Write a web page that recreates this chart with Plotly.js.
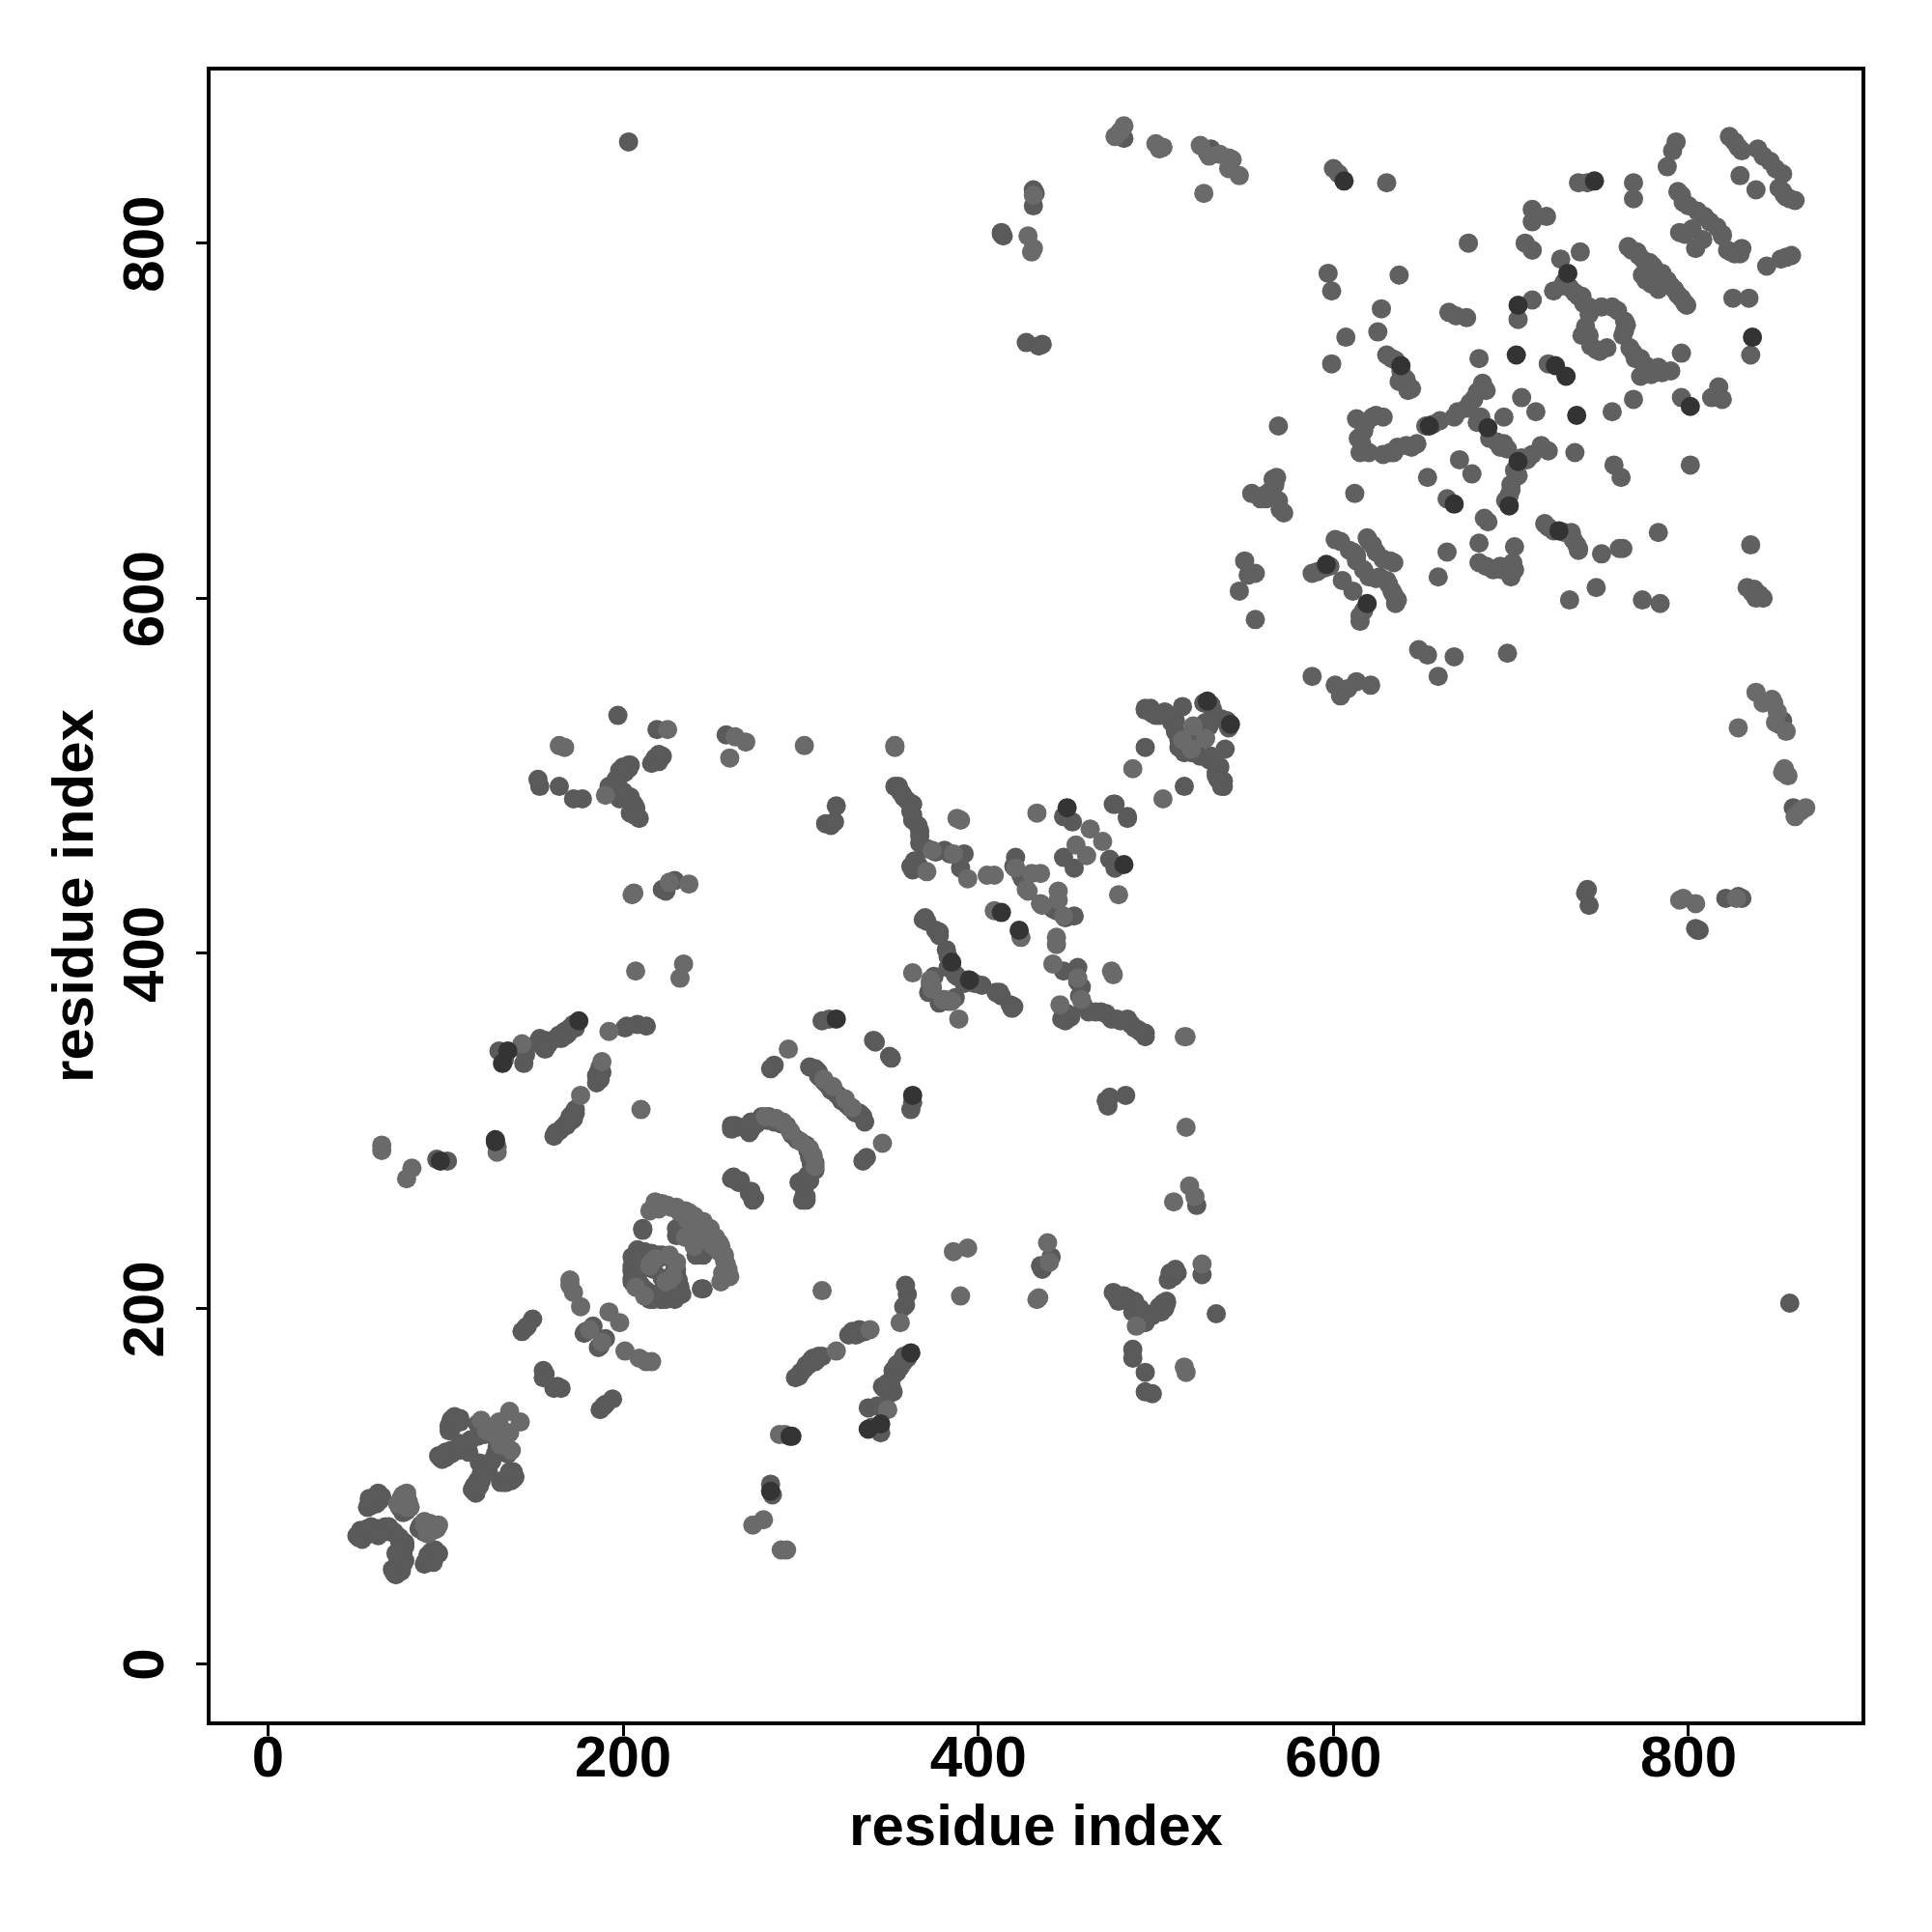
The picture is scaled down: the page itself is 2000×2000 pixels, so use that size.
<!DOCTYPE html>
<html><head><meta charset="utf-8">
<script src="https://cdn.plot.ly/plotly-3.0.1.min.js"></script>
<style>html,body{margin:0;padding:0;background:#fff}</style></head><body>
<div id="chart" style="width:2000px;height:2000px"></div>
<script>
// contact pairs [larger residue, smaller residue]; each is drawn on both sides of the diagonal
const pairsMid = [
[93,60],[91,58],[88,56],[94,64],[90,61],[96,62],[92,63],[93,75],[88,74],[86,78],[85,76],[73,55],[75,52],[72,50],[77,58],[76,62],[77,66],[74,58],[70,53],[72,54],[74,69],[73,57],[75,60],
[90,57],[92,60],[89,58],[94,62],[93,57],[76,60],[74,55],[73,52],[71,51],[76,56],[75,64],[77,68],[74,71],[72,62],
[138,108],[137,103],[131,102],[134,102],[136,105],[128,118],[133,123],[131,120],[123,112],[120,107],[118,103],[116,97],[116,100],[117,100],[120,103],[121,108],[119,113],[124,112],[138,104],[132,103],
[133,102],[135,103],[139,105],[136,108],[115,98],[117,96],[119,100],[122,110],[124,108],[126,114],[129,122],[133,120],[135,118],
[194,149],[189,145],[187,143],[190,146],[163,156],[165,155],[161,155],[190,183],[187,179],[186,178],
[249,242],[243,232],[241,233],[244,231],[245,211],[244,211],[231,208],[231,211],[230,222],[228,210],[221,205],[222,217],[215,205],[225,210],[223,212],[229,222],[230,208],[222,205],[218,208],[216,207],[222,210],
[226,207],[229,205],[224,205],[220,208],[232,212],[233,208],[228,207],[217,205],[213,210],[230,220],[231,216],[245,230],[246,233],[241,230],
[297,161],[300,164],[304,168],[307,172],[312,173],[309,171],[327,185],[333,188],[334,187],[359,202],[360,208],[359,213],[358,201],[358,173],[355,169],[352,165],[351,156],[348,157],[352,153],[338,144],[343,145],[340,133],[345,130],
[299,162],[302,166],[305,169],[308,170],[310,173],[303,168],[306,171],[333,186],[329,187],[336,187],[331,185],
[361,174],[360,172],[358,170],[356,167],[354,164],[352,162],[349,158],[350,152],[347,155],[346,156],[354,168],[358,172],
[441,229],[436,222],[435,224],[508,220],[507,216],[506,204],[502,201],[498,197],[494,194],[487,198],[484,206],[476,209],[479,204],[534,197],[487,177],[487,172],[494,164],[494,153],[498,152],[482,207],[490,200],[486,204],[504,203],[526,219],[523,258],
[506,203],[505,200],[503,198],[498,196],[494,192],[488,204],[483,206],[481,207],[478,206],[491,200],[510,218],[511,222],[512,220],
[472,317],[473,314],[474,319],[483,320],[362,312],[363,316],[337,285],[335,283],[350,342],[351,341],[335,308],[334,309],[330,311],[326,315],[322,319],[308,278],[303,272],[299,271],[303,261],[300,271],[303,263],[273,261],[271,265],[272,266],[274,262],
[306,281],[308,282],[303,292],[298,295],[304,289],[305,285],[307,279],[304,275],[305,272],[301,272],[302,268],[302,264],[301,261],
[333,310],[331,310],[328,313],[327,314],[324,318],[323,317],[321,320],[336,305],
[388,387],[402,382],[413,376],[420,370],[394,385],[452,364],[462,367],[469,367],[475,363],[484,363],[488,358],[494,353],[458,381],[455,388],[456,392],[448,390],[454,421],[449,420],[444,424],[442,425],[474,453],[477,448],[454,448],[484,476],[484,477],[516,494],[538,494],[534,502],[540,531],[537,494],[534,500],[530,509],[525,511],[520,513],[531,511],[539,515],
[494,355],[491,356],[486,360],[478,363],[472,366],[466,367],[457,376],[456,384],[459,371],[450,366],[448,367],[447,363],[449,362],[490,357],[480,362],
[412,378],[410,378],[418,371],[419,369],[392,383],[398,383],[387,375],[383,373],[378,372],
[537,532],[541,527],[530,528],[523,521],[514,521],[513,516],[536,505],[538,497],[535,498],
[744,427],[743,436],[742,434],[805,413],[806,413],[828,432],[821,431],[830,431],[804,414],[853,531],[851,529],[859,482],[857,203],[283,101],[284,95]
];
const pairsLight = [
[91,79],[95,76],[92,78],[88,80],[96,78],[94,78],[91,76],[89,78],[90,73],[88,78],
[137,120],[131,123],[136,130],[142,136],[130,126],[129,134],[134,128],
[216,170],[213,170],[209,172],[201,176],[198,192],[188,181],
[260,218],[259,222],[257,227],[254,232],[254,237],[245,248],[255,215],[228,218],[226,216],[212,207],
[215,224],[226,230],[235,240],[238,240],[250,236],[246,240],[249,245],[252,240],[255,235],[257,230],[258,225],[256,220],
[320,176],[339,188],[356,192],[349,143],[288,129],[312,210],[390,207],[386,232],[394,234],
[439,237],[440,226],[434,206],[433,205],[526,225],[489,190],[517,164],[516,167],[516,353],[517,302],[519,269],[522,263],[510,260],
[346,293],[329,313],[325,318],[305,290],[300,294],[307,286],[308,280],[380,374],[385,373],[381,374],[389,363],[446,371],[458,374],[456,386],[476,388],[475,390],[442,394],[444,409],[444,405],[424,409],[517,353],
[445,430],[445,435],[435,428],[436,427],[448,421],[479,433],[470,463],[461,455],[504,487],[520,515],[528,521],
[797,431],[827,431],[860,477],[863,480],[853,502],[856,500],[828,527],[850,536],[847,543],[848,541],[838,547],[849,530],[855,525],[854,504],[866,482],[795,430],[804,428],[842,541],
[289,64],[292,64],[279,81],[273,78],[291,129]
];
const pairsDark = [
[362,175],[345,135],[338,132],[294,128],[363,320],[395,385],[423,413],[482,450],[542,529],[295,128],[283,97]
];
// right-hand block, read directly as [x, y]
const blockMidLight = [
[569,697],[561,658],[569,655],[572,648],[559,656],[554,659],[568,668],[562,656],[564,660],[567,664],[566,667],[570,650],
[613,701],[628,702],[617,694],[615,682],[620,682],[632,682],[628,681],[644,685],[641,686],
[614,690],[618,698],[622,702],[624,703],[616,687],[634,682],[636,685],[647,687],
[670,705],[677,710],[684,721],[686,717],[696,702],[694,685],[696,687],[706,713],[714,705],[757,705],[769,712],[796,713],[813,713],[817,719],[819,712],
[681,699],[683,702],[688,690],[692,688],[698,684],[706,679],[712,681],[702,672],[700,661],[697,655],[660,700],[668,702],[675,707],[679,712],[681,716],[652,697],[656,698],
[709,678],[717,686],[721,683],[704,669],[700,664],[699,658],[671,678],[678,670],[653,668],[664,656],
[612,659],[736,682],[758,675],[762,668],[801,675],
[687,643],[685,645],[682,631],[682,620],[690,616],[695,616],[701,620],[702,629],[700,612],[664,626],[659,612],
[719,642],[734,637],[737,630],[738,627],[751,625],[763,628],[783,637],[835,630],[837,605],[842,600],[836,603],
[721,640],[724,638],[730,637],[735,633],[738,628],[694,618],[686,618],[702,616],[761,628],[838,600],[840,602],[833,606],
[748,606],[733,599],[774,599],[784,597],
[601,633],[611,626],[613,621],[619,634],[622,630],[632,621],[634,620],[624,611],[620,612],[630,610],[634,602],[635,597],[615,590],[615,587],[588,614],[605,610],[611,604],
[604,632],[609,627],[613,624],[620,632],[624,626],[628,622],[626,612],[617,616],[631,608],[633,604],[636,599],[617,593],[591,615],[595,617],[598,618],
[648,571],[653,568],[659,556],[668,567],[698,569],[588,556],[613,553],[608,549],[604,545],[621,551],[601,551],
[556,588],[547,604],[552,613],[556,614],[550,621],
[793,857],[791,852],[788,843],[823,860],[828,854],[839,853],[842,849],[849,842],[853,839],[829,838],[838,830],[854,827],[860,824],
[855,826],[853,829],[857,825],[851,831],[826,857],[830,852],[846,846],[819,804],[822,796],[826,794],[830,797],[855,792],
[738,834],[743,834],[769,834],[769,825],[794,829],[797,823],[805,818],[809,815],[816,809],[819,805],[802,808],[808,802],[798,805],[804,797],[824,795],[829,794],[844,787],[858,793],[852,791],
[796,827],[800,821],[812,812],[795,806],
[834,769],[825,769],[835,737],[796,738],
[766,798],[771,795],[780,787],[774,782],[788,779],[783,774],[792,774],[798,766],[775,790],
[768,796],[772,793],[778,789],[785,783],[787,778],[790,776],[794,771],[796,769],[799,765],[781,785],[776,779],[779,777],
[728,791],[739,795],[724,773],[729,776],[736,772],[741,766],[757,764],[751,764],[764,756],[764,751],[742,753],[740,748],
[730,778],[733,775],[738,770],[744,764],[740,770],[744,760],[760,762],[765,754],[763,748],[744,748],
[748,740],[754,741],[767,741],[773,735],[783,730],[773,725],[790,728],[750,739],[745,742],[770,735],[776,731],[779,726],[785,727],[769,738],
[676,800],[708,800],[712,796],[712,819],[720,815],[712,812],
[597,783],[599,773],[637,782],[627,763],[607,747],[625,750],[599,732],[665,761],[675,758],[669,759],[712,768],[704,757],
[630,737],[635,734],[642,717],[637,722],[641,723],[682,735],[721,732],[630,834],[600,842],[603,839],
[633,735],[638,728],[640,724],[644,718]
];
const blockDark = [
[606,835],[654,697],[687,696],[737,703],[801,708],[704,677],[699,652],[668,653],[727,638],[619,597],[596,619],[747,835],[836,747],[732,783],[704,765],[638,731],[725,731],[731,725],[703,737]
];
const xTickVals = [0,200,400,600,800];

const big = a => a.map(p => p[0]);
const small = a => a.map(p => p[1]);
function mirrored(a, color){
  return {type:'scatter',mode:'markers',hoverinfo:'skip',
    x:big(a).concat(small(a)), y:small(a).concat(big(a)),
    marker:{size:20,color:color,line:{width:0}}};
}
function direct(a, color){
  return {type:'scatter',mode:'markers',hoverinfo:'skip',
    x:big(a), y:small(a), marker:{size:20,color:color,line:{width:0}}};
}
const font = {family:'"Liberation Sans",Arial,sans-serif',size:60,color:'#000',weight:700};
const axisBase = {tickvals:xTickVals,ticktext:xTickVals.map(String),ticks:'outside',ticklen:11,tickwidth:3,tickcolor:'#000',
  showline:true,mirror:true,linecolor:'#000',linewidth:4,showgrid:false,zeroline:false,tickfont:font};
Plotly.newPlot('chart',[
  mirrored(pairsMid,'#5a5a5a'),
  direct(blockMidLight,'#606060'),
  mirrored(pairsLight,'#6a6a6a'),
  mirrored(pairsDark,'#343434'),
  direct(blockDark,'#333333')
],{
  width:2000,height:2000,showlegend:false,paper_bgcolor:'#fff',plot_bgcolor:'#fff',
  margin:{l:218,r:73,t:73,b:218,pad:0},
  xaxis:Object.assign({},axisBase,{range:[-32.4,897.4],ticklabelstandoff:-30,title:{text:'residue index',font:font,standoff:18}}),
  yaxis:Object.assign({},axisBase,{range:[-32.6,897.2],tickangle:-90,ticklabelstandoff:10,title:{text:'residue index',font:font,standoff:0}})
},{displayModeBar:false,staticPlot:true}).then(gd => {
  // centre the rotated y tick labels on their ticks
  gd.querySelectorAll('.ytick text').forEach(t => {
    t.setAttribute('transform','translate(0,10) ' + (t.getAttribute('transform') || ''));
  });
});
</script></body></html>
